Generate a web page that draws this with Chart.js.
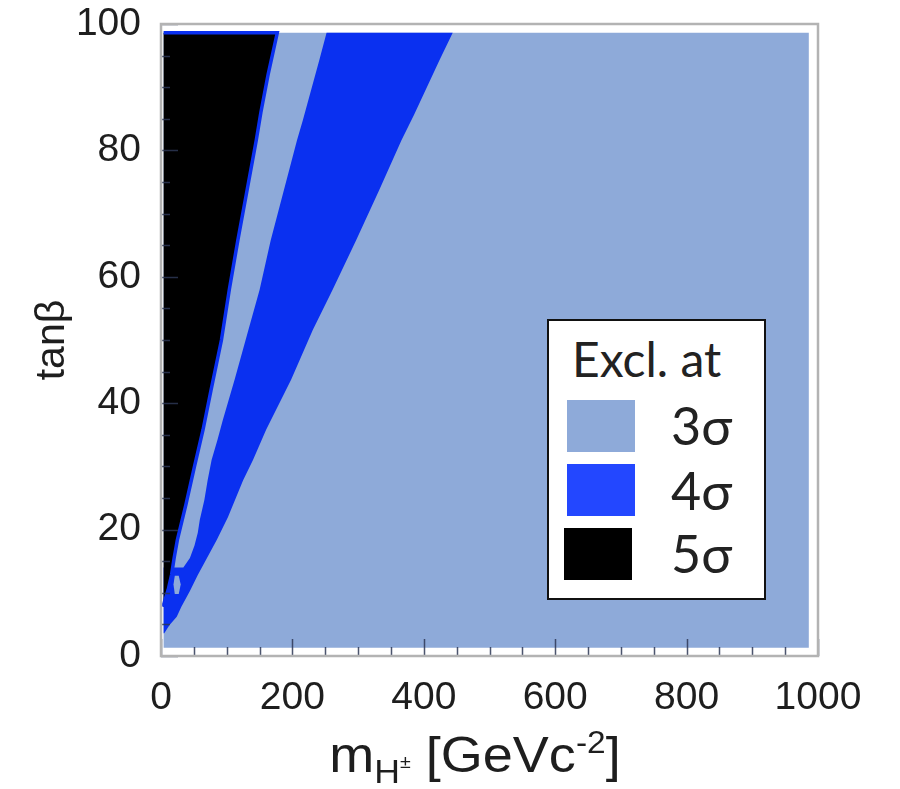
<!DOCTYPE html>
<html>
<head>
<meta charset="utf-8">
<script src="https://cdn.jsdelivr.net/npm/chart.js@4.4.1/dist/chart.umd.min.js"></script>
<style>
html,body{margin:0;padding:0;background:#fff;}
#wrap{position:relative;width:900px;height:789px;overflow:hidden;}
#c{position:absolute;left:0;top:0;}
#xtitle{position:absolute;left:175px;width:600px;top:730px;text-align:center;font-family:"Liberation Sans",Arial,sans-serif;font-size:50px;line-height:50px;color:#1e1e1e;white-space:nowrap;transform:scaleX(1.08);transform-origin:50% 50%;}
#xtitle .sub{font-size:0.66em;position:relative;top:0.33em;}
#xtitle .pm{font-size:0.55em;position:relative;top:-0.8em;}
#xtitle .sup{font-size:0.62em;position:relative;top:-0.62em;}
#legend{position:absolute;left:547px;top:319px;width:215px;height:277px;border:2px solid #111;background:#fff;font-family:Lato,"Noto Sans",sans-serif;color:#222;}
#legend .t{position:absolute;white-space:nowrap;line-height:1;}
#legend .sw{position:absolute;}
</style>
</head>
<body>
<div id="wrap">
<canvas id="c" width="900" height="789"></canvas>
<div id="xtitle">m<span class="sub">H<span class="pm">±</span></span> [GeVc<span class="sup">-2</span>]</div>
<div id="legend"></div>
</div>
<script>
// ---- data ----
const massRange = [4, 986];          // scanned m_H± range (GeV)
const tanBetaRange = [1.3, 98.6];    // scanned tanβ range

// 5σ (black) region boundary, bottom -> top
const tanBeta5 = [7.8, 10.5, 12.8, 15.5, 18.4, 24, 30, 35.8, 42, 50, 58, 65.8, 73.7, 81.6, 86, 92, 98.6];
const mass5    = [3, 11, 16, 20, 25, 38, 51, 64, 76, 92, 104, 117, 131, 145, 152, 163, 177];

// 4σ band, inner (left) edge, bottom -> top
const tanBeta4In = [14, 15.5, 17.5, 19.5, 21.5, 24.7, 27.8, 31, 34.2, 37.3, 43.7, 51.6, 57.9, 65.8, 73.7, 81.6, 84.8, 94.3, 98.6];
const mass4In    = [34, 44, 51, 56, 59, 66, 71, 77, 86, 94, 112, 133, 150, 167, 187, 207, 216, 241, 252];

// 4σ band, outer (right) edge, bottom -> top
const tanBeta4Out = [3.6, 4.9, 6.2, 7.8, 10.3, 12.8, 15.5, 18.4, 22, 27.8, 31, 35.8, 43.7, 51.6, 57.9, 65.8, 73.7, 81.6, 85.6, 94.3, 98.6];
const mass4Out    = [5, 13, 24, 31, 44, 56, 70, 85, 102, 125, 140, 160, 198, 231, 261, 297, 332, 366, 385, 424, 444];

// small 3σ-only island inside the low-tanβ 4σ area
const islandMass    = [19, 21, 27, 30, 27, 21];
const islandTanBeta = [11.3, 12.7, 12.7, 11.3, 9.8, 9.8];

const xTickValues = [0, 200, 400, 600, 800, 1000];
const yTickValues = [0, 20, 40, 60, 80, 100];
const legendTitle = 'Excl. at';
const legendLabels = ['3σ', '4σ', '5σ'];

// ---- styles ----
const C3 = '#8eaad9';
const C4 = '#0a30f0';
const C5 = '#000000';
const legendColors = ['#8eaad9', '#2347ff', '#000000'];

// ---- build polygons from the data ----
const pts = (ms, ts) => ms.map((m, i) => ({x: m, y: ts[i]}));
const [m0, m1] = massRange, [t0, t1] = tanBetaRange;

const bgPoly = [{x: m0, y: t0}, {x: m0, y: t1}, {x: m1, y: t1}, {x: m1, y: t0}];
const edge5 = pts(mass5, tanBeta5);
const poly5 = [{x: m0, y: tanBeta5[0]}, ...edge5, {x: m0, y: t1}];
const inner4 = pts(mass4In, tanBeta4In);
const outer4 = pts(mass4Out, tanBeta4Out);
const poly4 = [{x: m0, y: tanBeta4Out[0]}, {x: m0, y: tanBeta4In[0]}, ...inner4, ...outer4.slice().reverse()];
const fringe = [{x: m0, y: t1}, ...edge5.slice().reverse()];
const island = pts(islandMass, islandTanBeta);

const area = (data, color, order) => ({
  type: 'line', data, order, fill: 'shape', backgroundColor: color,
  borderColor: 'rgba(0,0,0,0)', borderWidth: 0, pointRadius: 0, tension: 0
});

const frameTicks = {
  id: 'frameTicks',
  afterDatasetsDraw(chart) {
    const {ctx, chartArea: a, scales: {x, y}} = chart;
    ctx.save();
    ctx.strokeStyle = 'rgba(45,55,85,0.85)';
    ctx.lineWidth = 1.5;
    ctx.beginPath();
    for (let v = 0; v <= 1000; v += 50) {
      const px = Math.round(x.getPixelForValue(v)) + 0.5;
      const len = v % 200 === 0 ? 17 : 9;
      ctx.moveTo(px, a.bottom); ctx.lineTo(px, a.bottom - len);
    }
    for (let v = 0; v <= 100; v += 5) {
      const py = Math.round(y.getPixelForValue(v)) + 0.5;
      const len = v % 20 === 0 ? 17 : 9;
      ctx.moveTo(a.left, py); ctx.lineTo(a.left + len, py);
    }
    ctx.stroke();
    ctx.strokeStyle = '#b3b3b3';
    ctx.lineWidth = 2.5;
    ctx.strokeRect(a.left, a.top, a.right - a.left, a.bottom - a.top);
    ctx.restore();
  }
};

new Chart(document.getElementById('c'), {
  type: 'line',
  data: {
    datasets: [
      area(bgPoly, C3, 6),
      area(poly4, C4, 5),
      area(poly5, C5, 4),
      {type: 'line', data: fringe, order: 3, fill: false, borderColor: C4, borderWidth: 3.5,
       pointRadius: 0, tension: 0},
      area(island, C3, 2)
    ]
  },
  options: {
    responsive: false,
    animation: false,
    devicePixelRatio: 1,
    layout: {padding: {top: 24, right: 82, left: 0, bottom: 0}},
    plugins: {legend: {display: false}, tooltip: {enabled: false}, title: {display: false}},
    scales: {
      x: {
        type: 'linear', min: 0, max: 1000,
        afterFit: s => { s.height = 133; },
        afterBuildTicks: s => { s.ticks = xTickValues.map(v => ({value: v})); },
        grid: {display: false}, border: {display: false},
        ticks: {padding: 11, color: '#1e1e1e', font: {family: 'Liberation Sans', size: 39}, maxRotation: 0,
                callback: v => String(v)}
      },
      y: {
        type: 'linear', min: 0, max: 100,
        afterFit: s => { s.width = 161; s.paddingTop = 0; s.paddingBottom = 0; },
        afterBuildTicks: s => { s.ticks = yTickValues.map(v => ({value: v})); },
        grid: {display: false}, border: {display: false},
        ticks: {padding: 12, color: '#1e1e1e', font: {family: 'Liberation Sans', size: 39},
                callback: v => String(v)},
        title: {display: true, text: 'tanβ', color: '#1e1e1e', padding: {top: 28, bottom: 0},
                font: {family: 'Liberation Sans', size: 41}}
      }
    }
  },
  plugins: [frameTicks]
});

// ---- legend (HTML text) ----
const lg = document.getElementById('legend');
const addText = (txt, left, top, size) => {
  const d = document.createElement('div');
  d.className = 't'; d.textContent = txt;
  d.style.left = left + 'px'; d.style.top = top + 'px'; d.style.fontSize = size + 'px';
  lg.appendChild(d);
};
addText(legendTitle, 23, 14, 48);
const swTops = [79, 143, 207];
const swLefts = [18, 18, 15];
const labelTops = [78, 143, 206];
legendLabels.forEach((lab, i) => {
  const s = document.createElement('div');
  s.className = 'sw';
  s.style.left = swLefts[i] + 'px'; s.style.top = swTops[i] + 'px';
  s.style.width = '68px'; s.style.height = '52px';
  s.style.background = legendColors[i];
  lg.appendChild(s);
  addText(lab, 122, labelTops[i], 52);
});
</script>
</body>
</html>
